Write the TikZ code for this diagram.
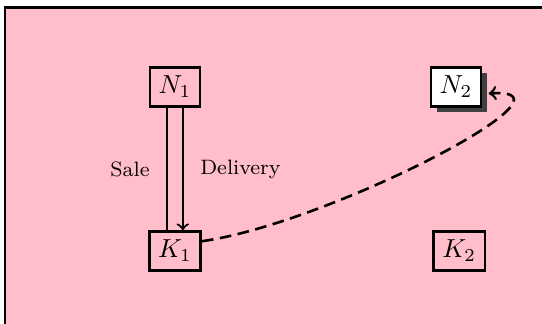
\documentclass[tikz,border=0pt]{standalone}
\usepackage{tikz}
\usetikzlibrary{positioning, calc, shadows}
\definecolor{frame color}{RGB}{255,190,201}
\tikzset{agent/.style={draw, line width=1pt}}
\tikzset{flow/.style={thick}}
\tikzset{shadowed/.style={agent, fill=white, drop shadow={shadow xshift=2.2pt, shadow yshift=-2.2pt, fill=black!75, opacity=1}}}
\begin{document}
\begin{tikzpicture}
                \useasboundingbox (-2.364, -0.986) rectangle (4.958, 3.391);
                \draw[thick, fill=frame color] (-2.297, 3.29) rectangle (5.5, -1.5);
                \node[agent] (N1) at (0, 2.216) {$N_1$};
                \node[agent] (K1) at (0, 0) {$K_1$};
                \node[shadowed] (N2) at (3.796, 2.216) {$N_2$};
                \node[agent] (K2) at (3.84, 0) {$K_2$};
                \draw[flow] ([xshift=-3pt]N1.south) -- ([xshift=-3pt]K1.north) node [midway, left=3pt] {\footnotesize Sale};
                \draw[flow, ->] ([xshift=3pt]N1.south) -- ([xshift=3pt]K1.north) node [midway, right=3pt] {\footnotesize Delivery};
                \draw[line width=1pt, ->, dash pattern=on 4.5pt off 2.5pt, shorten >=2.5pt] (K1.20) .. controls +(8:1.75) and +(4:1.5) .. (N2.-15);
            \end{tikzpicture}
\end{document}
